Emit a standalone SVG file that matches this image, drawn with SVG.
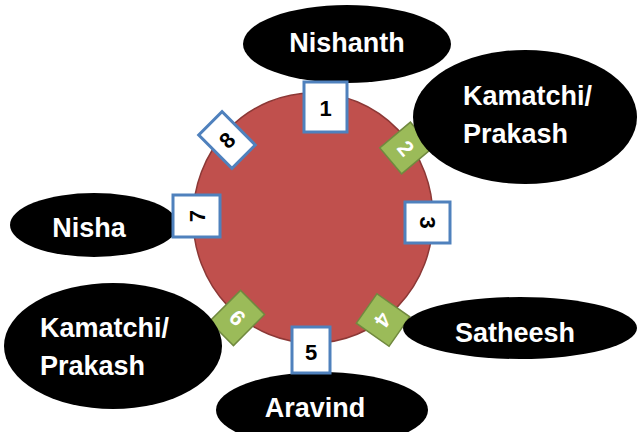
<svg xmlns="http://www.w3.org/2000/svg" width="640" height="432" viewBox="0 0 640 432">
<style>
.hub{fill:#C0504D;stroke:#8C3836;stroke-width:1.5}
.tag{fill:#FFFFFF;stroke:#4F81BD;stroke-width:3}
.gtag{fill:#9BBB59;stroke:#71893F;stroke-width:1.5}
.num{font-family:"Liberation Sans",Arial,sans-serif;font-weight:bold;font-size:22px;text-anchor:middle;fill:#000000}
.gnum{font-family:"Liberation Sans",Arial,sans-serif;font-weight:bold;font-size:22px;text-anchor:middle;fill:#FFFFFF}
.person{fill:#000000}
.name{font-family:"Liberation Sans",Arial,sans-serif;font-weight:bold;font-size:27px;fill:#FFFFFF}
.mid{text-anchor:middle}
</style>
<rect width="640" height="432" fill="#FFFFFF"/>
<g id="hub"><ellipse class="hub" cx="313" cy="218" rx="120" ry="125"/></g>
<g id="tag2" transform="translate(406,148) rotate(50)"><rect class="gtag" x="-17" y="-20" width="34" height="40"/><text class="gnum" x="0" y="8">2</text></g>
<g id="tag4" transform="translate(383,320) rotate(125)"><rect class="gtag" x="-18" y="-20" width="36" height="40"/><text class="gnum" x="0" y="8">4</text></g>
<g id="tag9" transform="translate(237,318) rotate(-135)"><rect class="gtag" x="-17" y="-22" width="34" height="44"/><text class="gnum" x="0" y="8">9</text></g>
<g id="nishanth"><ellipse class="person" cx="347" cy="44" rx="104" ry="39"/><text class="name mid" x="347" y="52">Nishanth</text></g>
<g id="kamatchi-prakash-right"><ellipse class="person" cx="525" cy="117" rx="112" ry="67"/><text class="name" x="463" y="105">Kamatchi/</text><text class="name" x="463" y="143">Prakash</text></g>
<g id="nisha"><ellipse class="person" cx="94" cy="225" rx="84" ry="32"/><text class="name mid" x="89" y="237">Nisha</text></g>
<g id="kamatchi-prakash-left"><ellipse class="person" cx="113" cy="346" rx="109" ry="63"/><text class="name" x="40" y="337">Kamatchi/</text><text class="name" x="40" y="375">Prakash</text></g>
<g id="satheesh"><ellipse class="person" cx="520" cy="328" rx="117" ry="31"/><text class="name mid" x="515" y="342">Satheesh</text></g>
<g id="aravind"><ellipse class="person" cx="322" cy="410" rx="106" ry="38"/><text class="name mid" x="315" y="417">Aravind</text></g>
<g id="tag1" transform="translate(325.5,107)"><rect class="tag" x="-21.5" y="-25" width="43" height="50"/><text class="num" x="0" y="9">1</text></g>
<g id="tag3" transform="translate(427.5,222.5) rotate(90)"><rect class="tag" x="-20.5" y="-22.5" width="41" height="45"/><text class="num" x="0" y="8">3</text></g>
<g id="tag5" transform="translate(311,350)"><rect class="tag" x="-19" y="-23" width="38" height="46"/><text class="num" x="0" y="10">5</text></g>
<g id="tag7" transform="translate(196.5,216) rotate(-90)"><rect class="tag" x="-21" y="-23.5" width="42" height="47"/><text class="num" x="0" y="8">7</text></g>
<g id="tag8" transform="translate(227,140) rotate(-45)"><rect class="tag" x="-16.5" y="-23.5" width="33" height="47"/><text class="num" x="0" y="8">8</text></g>
<g id="connectors"/>
</svg>
